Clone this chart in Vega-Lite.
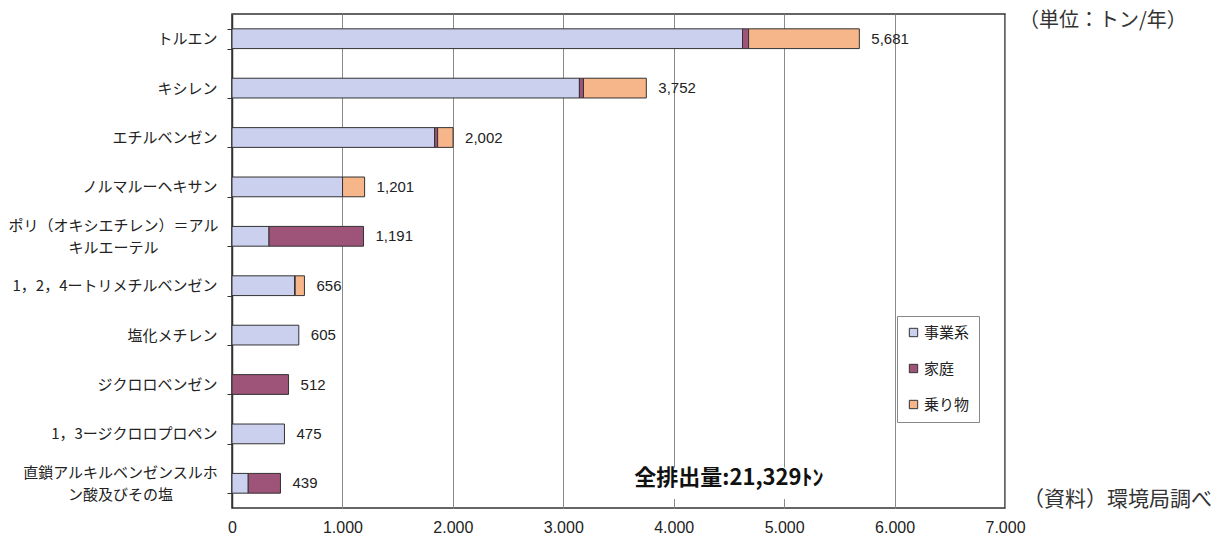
{
  "$schema": "https://vega.github.io/schema/vega-lite/v6.json",
  "width": 773,
  "height": 494,
  "autosize": {"type": "none"},
  "padding": {"left": 232, "top": 14, "right": 218, "bottom": 27},
  "background": "white",
  "config": {
    "view": {"stroke": "#333333", "strokeWidth": 1.5},
    "font": "Noto Sans CJK JP"
  },
  "datasets": {
    "parts": [
      {"chem": "トルエン", "type": "事業系", "value": 4623},
      {"chem": "トルエン", "type": "家庭", "value": 55},
      {"chem": "トルエン", "type": "乗り物", "value": 1003},
      {"chem": "キシレン", "type": "事業系", "value": 3146},
      {"chem": "キシレン", "type": "家庭", "value": 37},
      {"chem": "キシレン", "type": "乗り物", "value": 569},
      {"chem": "エチルベンゼン", "type": "事業系", "value": 1835},
      {"chem": "エチルベンゼン", "type": "家庭", "value": 27},
      {"chem": "エチルベンゼン", "type": "乗り物", "value": 140},
      {"chem": "ノルマルーヘキサン", "type": "事業系", "value": 1001},
      {"chem": "ノルマルーヘキサン", "type": "乗り物", "value": 200},
      {"chem": "ポリ（オキシエチレン）＝アル|キルエーテル", "type": "事業系", "value": 335},
      {"chem": "ポリ（オキシエチレン）＝アル|キルエーテル", "type": "家庭", "value": 856},
      {"chem": "1，2，4ートリメチルベンゼン", "type": "事業系", "value": 567},
      {"chem": "1，2，4ートリメチルベンゼン", "type": "家庭", "value": 5},
      {"chem": "1，2，4ートリメチルベンゼン", "type": "乗り物", "value": 84},
      {"chem": "塩化メチレン", "type": "事業系", "value": 605},
      {"chem": "ジクロロベンゼン", "type": "家庭", "value": 512},
      {"chem": "1，3ージクロロプロペン", "type": "事業系", "value": 475},
      {"chem": "直鎖アルキルベンゼンスルホ|ン酸及びその塩", "type": "事業系", "value": 147},
      {"chem": "直鎖アルキルベンゼンスルホ|ン酸及びその塩", "type": "家庭", "value": 292}
    ]
  },
  "layer": [
    {
      "data": {"values": [{}]},
      "mark": {"type": "bar", "fill": "white", "stroke": null, "height": {"band": 1.6}},
      "encoding": {
        "x": {"datum": 3560, "type": "quantitative"},
        "x2": {"datum": 5400},
        "y": {"datum": "直鎖アルキルベンゼンスルホ|ン酸及びその塩", "type": "nominal"}
      }
    },
    {
      "data": {"name": "parts"},
      "transform": [
        {"calculate": "indexof(['事業系','家庭','乗り物'], datum.type)", "as": "ord"}
      ],
      "mark": {"type": "bar", "stroke": "#333333", "strokeWidth": 1},
      "encoding": {
        "y": {
          "field": "chem",
          "type": "nominal",
          "scale": {
            "domain": [
              "トルエン",
              "キシレン",
              "エチルベンゼン",
              "ノルマルーヘキサン",
              "ポリ（オキシエチレン）＝アル|キルエーテル",
              "1，2，4ートリメチルベンゼン",
              "塩化メチレン",
              "ジクロロベンゼン",
              "1，3ージクロロプロペン",
              "直鎖アルキルベンゼンスルホ|ン酸及びその塩"
            ],
            "paddingInner": 0.6,
            "paddingOuter": 0.3
          },
          "axis": {
            "title": null,
            "labelExpr": "isValid(datum.value) ? split(datum.value, '|') : ''",
            "labelFontSize": 15,
            "labelColor": "#222222",
            "labelLineHeight": 22,
            "labelPadding": {
              "condition": [
                {"test": "isValid(datum.value) && indexof(datum.value, 'ポリ') == 0", "value": 114},
                {"test": "isValid(datum.value) && indexof(datum.value, '直鎖') == 0", "value": 107}
              ],
              "value": 10
            },
            "labelAlign": {
              "condition": {"test": "isValid(datum.value) && indexof(datum.value, '|') >= 0", "value": "center"},
              "value": "right"
            },
            "labelOffset": {
              "condition": {"test": "isValid(datum.value) && indexof(datum.value, '|') >= 0", "value": -11},
              "value": 0
            },
            "labelLimit": 260,
            "tickBand": "extent",
            "tickSize": 5,
            "tickColor": "#333333",
            "domainColor": "#333333",
            "domainWidth": 1.5,
            "grid": false
          }
        },
        "x": {
          "field": "value",
          "type": "quantitative",
          "stack": "zero",
          "scale": {"domain": [0, 7000], "nice": false},
          "axis": {
            "title": null,
            "values": [0, 1000, 2000, 3000, 4000, 5000, 6000, 7000],
            "labelExpr": "replace(format(datum.value, ','), ',', '.')",
            "labelFont": "Liberation Sans",
            "labelFontSize": 16,
            "labelColor": "#222222",
            "labelPadding": 11,
            "labelFlush": false,
            "labelOverlap": false,
            "ticks": false,
            "domain": false,
            "grid": true,
            "gridColor": "#8a8a8a",
            "gridWidth": 1
          }
        },
        "color": {
          "field": "type",
          "type": "nominal",
          "scale": {
            "domain": ["事業系", "家庭", "乗り物"],
            "range": ["#cbd0ef", "#9e5379", "#f7b58a"]
          },
          "legend": {
            "title": null,
            "orient": "none",
            "legendX": 665,
            "legendY": 302,
            "symbolType": "square",
            "symbolSize": 70,
            "symbolStrokeColor": "#333333",
            "symbolStrokeWidth": 1,
            "labelFontSize": 15,
            "labelColor": "#222222",
            "labelOffset": 3,
            "rowPadding": 20,
            "padding": 9,
            "strokeColor": "#888888",
            "fillColor": "white"
          }
        },
        "order": {"field": "ord", "type": "quantitative"}
      }
    },
    {
      "data": {"name": "parts"},
      "transform": [
        {"aggregate": [{"op": "sum", "field": "value", "as": "total"}], "groupby": ["chem"]}
      ],
      "mark": {"type": "text", "align": "left", "baseline": "middle", "dx": 12, "font": "Liberation Sans", "fontSize": 15, "color": "#222222"},
      "encoding": {
        "y": {"field": "chem", "type": "nominal"},
        "x": {"field": "total", "type": "quantitative"},
        "text": {"field": "total", "type": "quantitative", "format": ",d"}
      }
    },
    {
      "data": {"values": [{}]},
      "mark": {"type": "text", "align": "center", "baseline": "middle", "dy": -5, "fontSize": 22, "fontWeight": "bold", "color": "#111111"},
      "encoding": {
        "x": {"datum": 4500, "type": "quantitative"},
        "y": {"datum": "直鎖アルキルベンゼンスルホ|ン酸及びその塩", "type": "nominal"},
        "text": {"value": "全排出量:21,329ﾄﾝ"}
      }
    },
    {
      "data": {"values": [{}]},
      "mark": {"type": "text", "align": "left", "baseline": "middle", "dx": 14, "dy": -18, "fontSize": 20, "color": "#333333"},
      "encoding": {
        "x": {"datum": 7000, "type": "quantitative"},
        "y": {"datum": "トルエン", "type": "nominal"},
        "text": {"value": "（単位：トン/年）"}
      }
    },
    {
      "data": {"values": [{}]},
      "mark": {"type": "text", "align": "left", "baseline": "middle", "dx": 18, "dy": 17, "fontSize": 21, "color": "#333333"},
      "encoding": {
        "x": {"datum": 7000, "type": "quantitative"},
        "y": {"datum": "直鎖アルキルベンゼンスルホ|ン酸及びその塩", "type": "nominal"},
        "text": {"value": "（資料）環境局調べ"}
      }
    }
  ]
}
